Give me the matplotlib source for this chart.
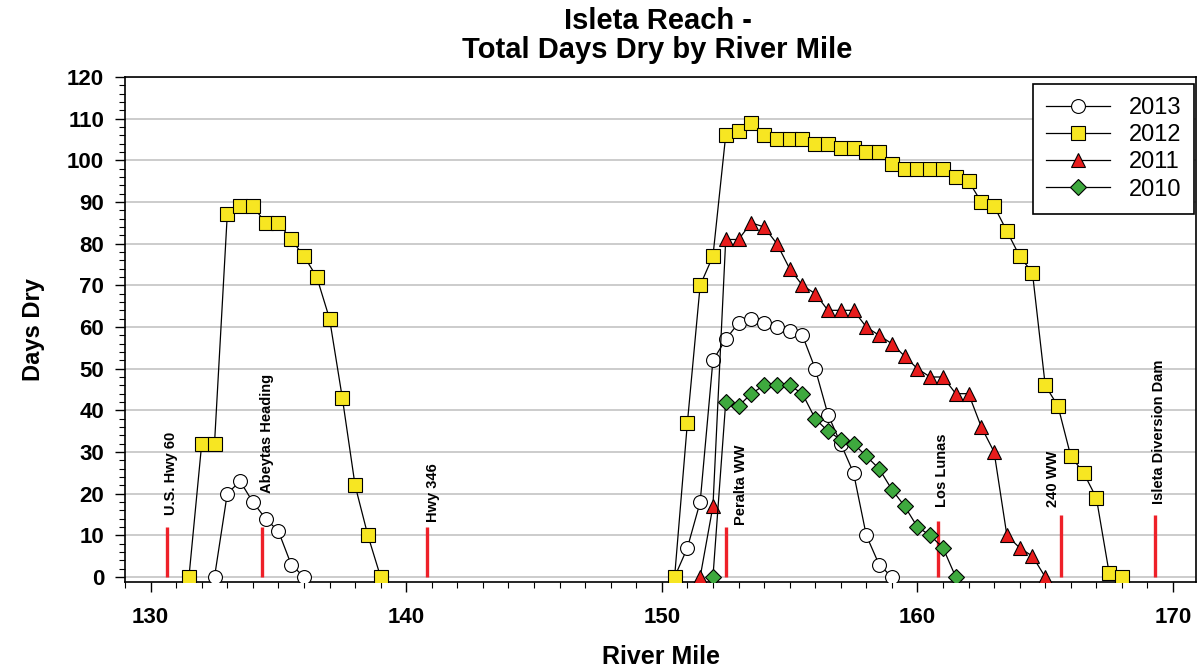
import numpy as np
import matplotlib
matplotlib.use("Agg")
import matplotlib.pyplot as plt
from matplotlib.ticker import MultipleLocator

nan = np.nan

# ---- data ----
rm_2013 = [132.5, 133.0, 133.5, 134.0, 134.5, 135.0, 135.5, 136.0, nan,
           150.5, 151.0, 151.5, 152.0, 152.5, 153.0, 153.5, 154.0, 154.5,
           155.0, 155.5, 156.0, 156.5, 157.0, 157.5, 158.0, 158.5, 159.0]
days_2013 = [0, 20, 23, 18, 14, 11, 3, 0, nan,
             0, 7, 18, 52, 57, 61, 62, 61, 60,
             59, 58, 50, 39, 32, 25, 10, 3, 0]

rm_2012 = [131.5, 132.0, 132.5, 133.0, 133.5, 134.0, 134.5, 135.0, 135.5,
           136.0, 136.5, 137.0, 137.5, 138.0, 138.5, 139.0, nan,
           150.5, 151.0, 151.5, 152.0, 152.5, 153.0, 153.5, 154.0, 154.5,
           155.0, 155.5, 156.0, 156.5, 157.0, 157.5, 158.0, 158.5, 159.0,
           159.5, 160.0, 160.5, 161.0, 161.5, 162.0, 162.5, 163.0, 163.5,
           164.0, 164.5, 165.0, 165.5, 166.0, 166.5, 167.0, 167.5, 168.0]
days_2012 = [0, 32, 32, 87, 89, 89, 85, 85, 81,
             77, 72, 62, 43, 22, 10, 0, nan,
             0, 37, 70, 77, 106, 107, 109, 106, 105,
             105, 105, 104, 104, 103, 103, 102, 102, 99,
             98, 98, 98, 98, 96, 95, 90, 89, 83,
             77, 73, 46, 41, 29, 25, 19, 1, 0]

rm_2011 = [151.5, 152.0, 152.5, 153.0, 153.5, 154.0, 154.5, 155.0, 155.5,
           156.0, 156.5, 157.0, 157.5, 158.0, 158.5, 159.0, 159.5, 160.0,
           160.5, 161.0, 161.5, 162.0, 162.5, 163.0, 163.5, 164.0, 164.5, 165.0]
days_2011 = [0, 17, 81, 81, 85, 84, 80, 74, 70,
             68, 64, 64, 64, 60, 58, 56, 53, 50,
             48, 48, 44, 44, 36, 30, 10, 7, 5, 0]

rm_2010 = [152.0, 152.5, 153.0, 153.5, 154.0, 154.5, 155.0, 155.5, 156.0,
           156.5, 157.0, 157.5, 158.0, 158.5, 159.0, 159.5, 160.0, 160.5,
           161.0, 161.5]
days_2010 = [0, 42, 41, 44, 46, 46, 46, 44, 38,
             35, 33, 32, 29, 26, 21, 17, 12, 10,
             7, 0]

landmark_names = ["U.S. Hwy 60", "Abeytas Heading", "Hwy 346", "Peralta WW",
                  "Los Lunas", "240 WW", "Isleta Diversion Dam"]
landmark_rm = [130.65, 134.36, 140.8, 152.5, 160.8, 165.6, 169.3]
landmark_height = [12, 12, 12, 12, 13.5, 15, 15]
label_rm = [130.8, 134.55, 141.05, 153.1, 160.95, 165.3, 169.45]
label_base = [14.8, 20.2, 13.3, 12.5, 16.8, 16.8, 17.5]

x_ticks = [130, 140, 150, 160, 170]
y_ticks = [0, 10, 20, 30, 40, 50, 60, 70, 80, 90, 100, 110, 120]

# ---- figure ----
plt.rcParams['font.family'] = ['Liberation Sans', 'DejaVu Sans']
fig = plt.figure(figsize=(12, 6.67), dpi=100)
ax = fig.add_axes([0.1042, 0.1274, 0.8925, 0.7572])

ax.set_xlim(129.0, 170.9)
ax.set_ylim(-1.2, 120)

for y in y_ticks:
    ax.axhline(y, color='#c8c8c8', lw=1.3, zorder=0)

line_kw = dict(color='black', lw=0.9, markeredgecolor='black', markeredgewidth=0.8)
ax.plot(rm_2013, days_2013, marker='o', ms=10, markerfacecolor='white', label='2013', zorder=3, **line_kw)
ax.plot(rm_2012, days_2012, marker='s', ms=10, markerfacecolor='#f7e622', label='2012', zorder=3, **line_kw)
ax.plot(rm_2011, days_2011, marker='^', ms=10.5, markerfacecolor='#e81c1c', label='2011', zorder=3, **line_kw)
ax.plot(rm_2010, days_2010, marker='D', ms=8.5, markerfacecolor='#3ea93e', label='2010', zorder=3, **line_kw)

for name, xr, h, lx, lb in zip(landmark_names, landmark_rm, landmark_height, label_rm, label_base):
    ax.plot([xr, xr], [0, h], color='#ee2028', lw=2.4, solid_capstyle='butt', zorder=2)
    ax.text(lx, lb, name, rotation=90, ha='center', va='bottom',
            fontsize=10.5, fontweight='bold', color='black', zorder=4)

ax.set_xticks(x_ticks)
ax.set_yticks(y_ticks)
ax.xaxis.set_minor_locator(MultipleLocator(1))
ax.yaxis.set_minor_locator(MultipleLocator(2))
ax.tick_params(axis='both', which='major', direction='out', length=7, width=1,
               labelsize=16)
ax.tick_params(axis='both', which='minor', direction='out', length=4, width=0.8)
ax.tick_params(axis='x', which='major', pad=11)
ax.tick_params(axis='y', which='major', pad=8)
for lab in ax.get_xticklabels() + ax.get_yticklabels():
    lab.set_fontweight('bold')

for s in ax.spines.values():
    s.set_linewidth(1.2)
    s.set_color('black')

ax.set_xlabel('River Mile', fontsize=18, fontweight='bold', labelpad=12)
ax.set_ylabel('Days Dry', fontsize=17, fontweight='bold', labelpad=16)
fig.text(0.548, 0.99, 'Isleta Reach -\nTotal Days Dry by River Mile',
         ha='center', va='top', fontsize=21, fontweight='bold', linespacing=1.05)

leg = ax.legend(loc='upper right', bbox_to_anchor=(0.995, 0.874),
                bbox_transform=fig.transFigure, borderaxespad=0,
                fancybox=False, edgecolor='black', framealpha=1,
                fontsize=17, handlelength=2.7, labelspacing=0.22,
                borderpad=0.55, handletextpad=0.8)
leg.get_frame().set_linewidth(1.2)

fig.savefig('out.png', dpi=100)
